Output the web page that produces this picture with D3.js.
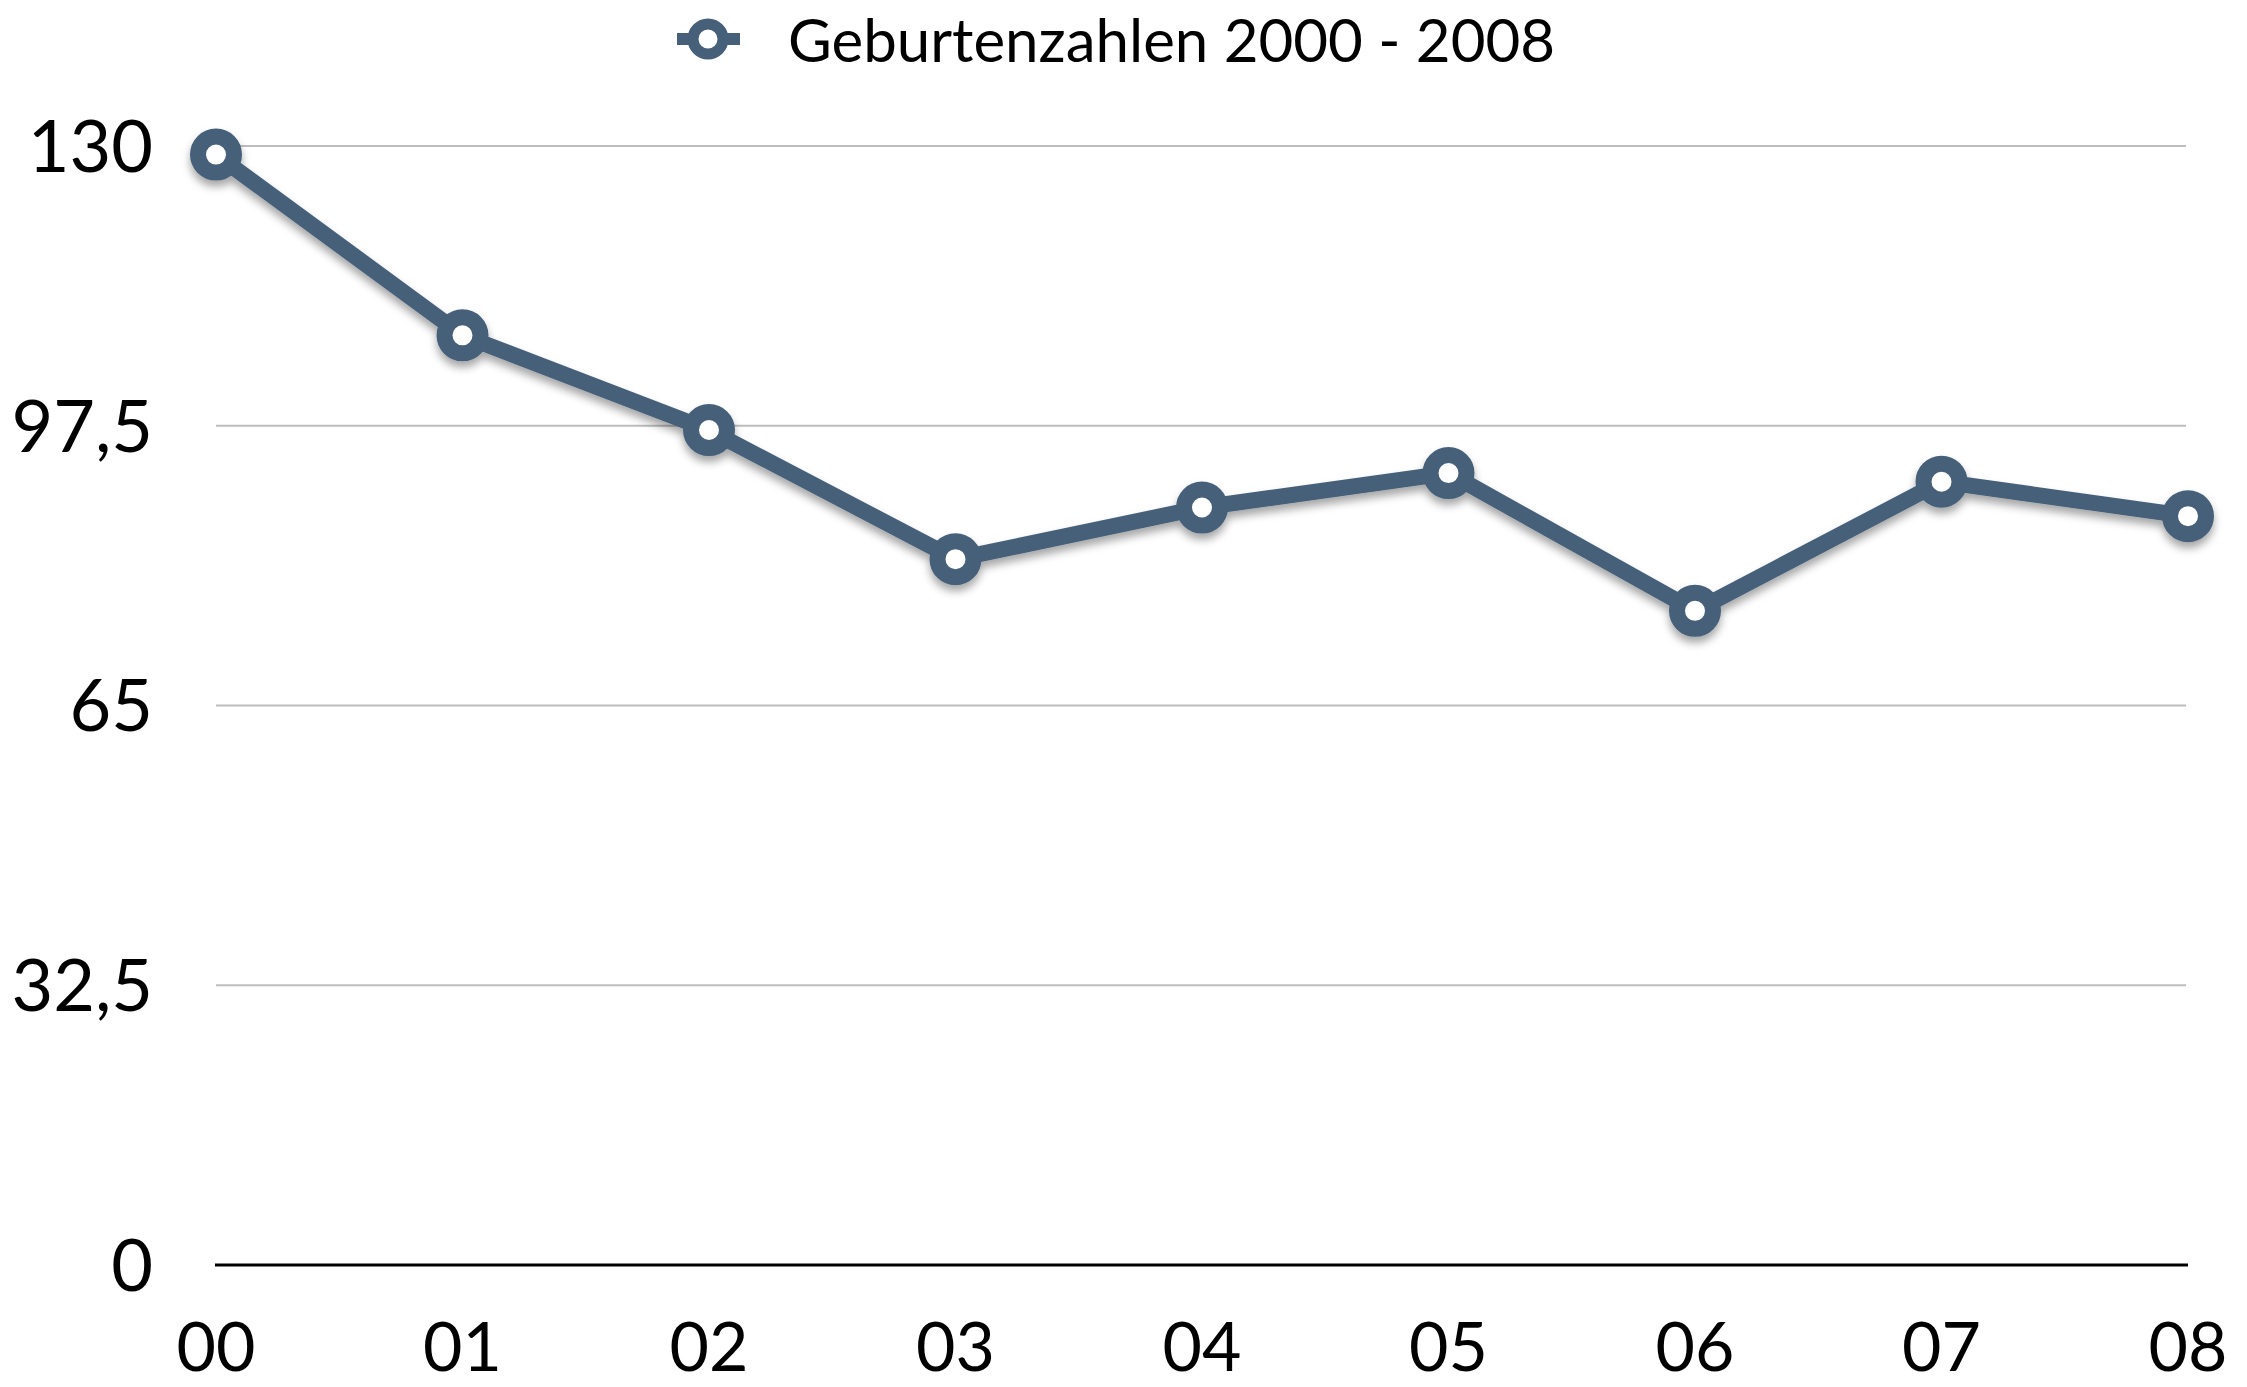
<!DOCTYPE html>
<html>
<head>
<meta charset="utf-8">
<script src="https://cdn.jsdelivr.net/npm/d3@7"></script>
<style>
  html, body { margin: 0; padding: 0; background: #fff; }
  svg { display: block; }
  text { font-family: Lato, "Open Sans", sans-serif; fill: #000; }
</style>
</head>
<body>
<script>
const categories = ["00", "01", "02", "03", "04", "05", "06", "07", "08"];
const values = [129, 108, 97, 82, 88, 92, 76, 91, 87];
const yTicks = [0, 32.5, 65, 97.5, 130];
const yTickLabels = ["0", "32,5", "65", "97,5", "130"];
const seriesName = "Geburtenzahlen 2000 - 2008";

const W = 2247, H = 1387;
const color = "#46607a";

const svg = d3.select("body").append("svg").attr("width", W).attr("height", H);

const defs = svg.append("defs");
const f = defs.append("filter").attr("id", "shadow")
  .attr("x", "-10%").attr("y", "-10%").attr("width", "120%").attr("height", "130%");
f.append("feDropShadow").attr("dx", 0).attr("dy", 6).attr("stdDeviation", 4)
  .attr("flood-color", "#000").attr("flood-opacity", 0.35);

const x = d3.scalePoint().domain(categories).range([216, 2188]);
const y = d3.scaleLinear().domain([0, 130]).range([1265, 146]);

// gridlines
const gy = svg.append("g");
gy.selectAll("line").data(yTicks.filter(d => d > 0)).join("line")
  .attr("x1", 216).attr("x2", 2186)
  .attr("y1", d => y(d)).attr("y2", d => y(d))
  .attr("stroke", "#bdbdbd").attr("stroke-width", 2);

// baseline
svg.append("line").attr("x1", 215).attr("x2", 2188)
  .attr("y1", y(0)).attr("y2", y(0))
  .attr("stroke", "#000").attr("stroke-width", 3);

// y axis labels
svg.append("g").selectAll("text").data(yTicks).join("text")
  .attr("x", 153).attr("y", d => y(d)).attr("dy", "0.36em")
  .attr("text-anchor", "end").attr("font-size", 72)
  .text((d, i) => yTickLabels[i]);

// x axis labels
svg.append("g").selectAll("text").data(categories).join("text")
  .attr("x", d => x(d)).attr("y", 1371)
  .attr("text-anchor", "middle").attr("font-size", 68)
  .text(d => d);

// series
const g = svg.append("g").attr("filter", "url(#shadow)");
const line = d3.line().x((d, i) => x(categories[i])).y(d => y(d));
g.append("path").datum(values).attr("d", line)
  .attr("fill", "none").attr("stroke", color).attr("stroke-width", 16)
  .attr("stroke-linejoin", "round");
g.selectAll("circle").data(values).join("circle")
  .attr("cx", (d, i) => x(categories[i])).attr("cy", d => y(d))
  .attr("r", 18).attr("fill", "#fff").attr("stroke", color).attr("stroke-width", 16);

// legend
const lg = svg.append("g");
lg.append("line").attr("x1", 677).attr("x2", 740).attr("y1", 39).attr("y2", 39)
  .attr("stroke", color).attr("stroke-width", 12);
lg.append("circle").attr("cx", 708).attr("cy", 39).attr("r", 15)
  .attr("fill", "#fff").attr("stroke", color).attr("stroke-width", 11);
lg.append("text").attr("x", 788).attr("y", 62).attr("font-size", 60)
  .text(seriesName);
</script>
</body>
</html>
